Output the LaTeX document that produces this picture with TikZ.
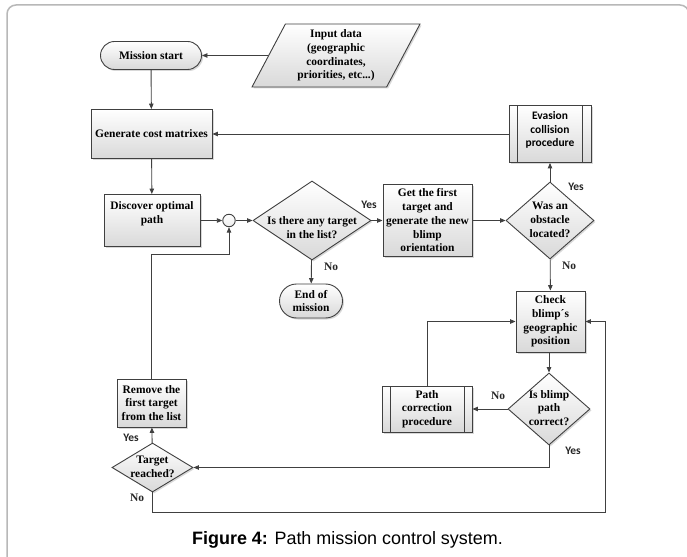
\documentclass[tikz,border=0pt]{standalone}
\usepackage{fontspec}
\setmainfont{Liberation Serif}
\newfontfamily\calfont{Carlito}
\newfontfamily\arialfont{Liberation Sans}
\usetikzlibrary{shapes.geometric,shapes.misc,shadows,arrows.meta}

\definecolor{edge}{HTML}{404040}
\definecolor{framec}{HTML}{B8B8B8}

\newcommand{\ctext}[2][0]{\smash{\raisebox{#1bp}{\makebox[0pt]{\begin{tabular}{@{}c@{}}#2\end{tabular}}}}}

\tikzset{
  base/.style={draw=edge, line width=0.9bp, top color=white, bottom color=gray!30,
    drop shadow={shadow xshift=1.5bp, shadow yshift=-1.5bp, opacity=0.3},
    font=\bfseries\fontsize{11.5}{13.8}\selectfont, align=center, inner sep=1bp},
  proc/.style={base, rectangle},
  term/.style={base, rounded rectangle},
  dec/.style={base, diamond, inner sep=0pt},
  pred/.style={proc, path picture={
      \draw[edge, line width=0.9bp]
        ([xshift=#1]path picture bounding box.north west) -- ([xshift=#1]path picture bounding box.south west)
        ([xshift=-#1]path picture bounding box.north east) -- ([xshift=-#1]path picture bounding box.south east);}},
  pred/.default=8.5bp,
  arr/.style={draw=edge, line width=0.9bp, -{Triangle[length=5.5bp,width=4.5bp]}},
  yeslbl/.style={font=\calfont\bfseries\fontsize{11.5}{13}\selectfont, inner sep=0pt, text=black!85},
  nolbl/.style={font=\bfseries\fontsize{11.5}{13}\selectfont, inner sep=0pt, text=black!85},
}

\begin{document}
\begin{tikzpicture}[x=1bp, y=-1bp]
\useasboundingbox (0,0) rectangle (687,557);
\fill[white] (0,0) rectangle (687,557);
% frame
\draw[framec, line width=1.5bp, rounded corners=9bp] (7,600) -- (7,5) -- (689,5) -- (689,600);

% nodes
\node[term, minimum width=103bp, minimum height=28bp] (start) at (151,55.5) {Mission start};
\node[base, trapezium, trapezium left angle=64, trapezium right angle=116, trapezium stretches=true,
      minimum width=168bp, minimum height=63bp] (input) at (336,55.5)
      {Input data\\(geographic\\coordinates,\\priorities, etc...)};
\node[proc, minimum width=121bp, minimum height=49bp] (gen) at (151.5,134) {Generate cost matrixes};
\node[pred, minimum width=82bp, minimum height=57bp, font=\calfont\bfseries\fontsize{11.5}{13.8}\selectfont] (evasion) at (550,134)
      {Evasion\\collision\\procedure\\[-4bp]};
\node[proc, minimum width=96bp, minimum height=52bp] (disc) at (152,220.5) {Discover optimal\\path\\[-2bp]\strut};
\node[circle, draw=edge, line width=0.9bp, top color=white, bottom color=gray!15, minimum size=12.5bp, inner sep=0pt] (join) at (229,220.5) {};
\node[dec, minimum width=118bp, minimum height=79bp] (q1) at (312,220.5) {\ctext[-11]{Is there any target\\in the list?}};
\node[proc, minimum width=89bp, minimum height=72bp] (first) at (427.5,220.5) {Get the first\\target and\\generate the new\\blimp\\orientation};
\node[dec, minimum width=88bp, minimum height=77bp] (q2) at (550,220.5) {\ctext[-3]{Was an\\obstacle\\located?}};
\node[term, minimum width=65bp, minimum height=34bp] (endm) at (311,301) {End of\\mission};
\node[proc, minimum width=69bp, minimum height=61bp] (check) at (550.5,321.5) {Check\\blimp´s\\geographic\\position};
\node[dec, minimum width=82bp, minimum height=72bp] (q3) at (549,409) {\ctext[-3]{Is blimp\\path\\correct?}};
\node[pred=8bp, minimum width=90bp, minimum height=46bp] (pathc) at (427,409) {Path\\correction\\procedure};
\node[proc, minimum width=69bp, minimum height=48bp] (remove) at (151.5,403) {Remove the\\first target\\from the list};
\node[dec, minimum width=81bp, minimum height=49bp] (q4) at (152.5,467.5) {\ctext[-3]{Target\\reached?}};

% connectors
\draw[arr] (input) -- (start);
\draw[arr] (start) -- (gen);
\draw[arr] (evasion) -- (gen);
\draw[arr] (gen) -- (disc);
\draw[arr] (disc.east |- join) -- (join);
\draw[arr] (join) -- (q1);
\draw[arr] (q1) -- (first);
\draw[arr] (q1) -- (endm);
\draw[arr] (first) -- (q2);
\draw[arr] (q2) -- (evasion);
\draw[arr] (q2) -- (check);
\draw[arr] (check.south -| q3) -- (q3);
\draw[arr] (q3) -- (pathc);
\draw[arr] (pathc.north) |- (check.west);
\draw[arr] (q3.south) |- (q4.east);
\draw[arr] (q4) -- (remove);
\draw[arr] (remove.north) -- ++(0,-124) -| (join.south);
\draw[arr] (q4.south) |- (605,512) |- (check.east);

% labels
\node[yeslbl] (y1) at (369,205) {Yes};
\node[nolbl] (n1) at (331,267) {No};
\node[yeslbl] (y2) at (576,187) {Yes};
\node[nolbl] (n2) at (569,266) {No};
\node[nolbl] (n3) at (498,396) {No};
\node[yeslbl] (y3) at (573,451) {Yes};
\node[yeslbl] (y4) at (131,438) {Yes};
\node[nolbl] (n4) at (137,498) {No};

% caption
\node[font=\arialfont\fontsize{18}{20}\selectfont, anchor=base, inner sep=0pt] (cap) at (347.5,544)
  {\textbf{Figure 4:} Path mission control system.};
\end{tikzpicture}
\end{document}
